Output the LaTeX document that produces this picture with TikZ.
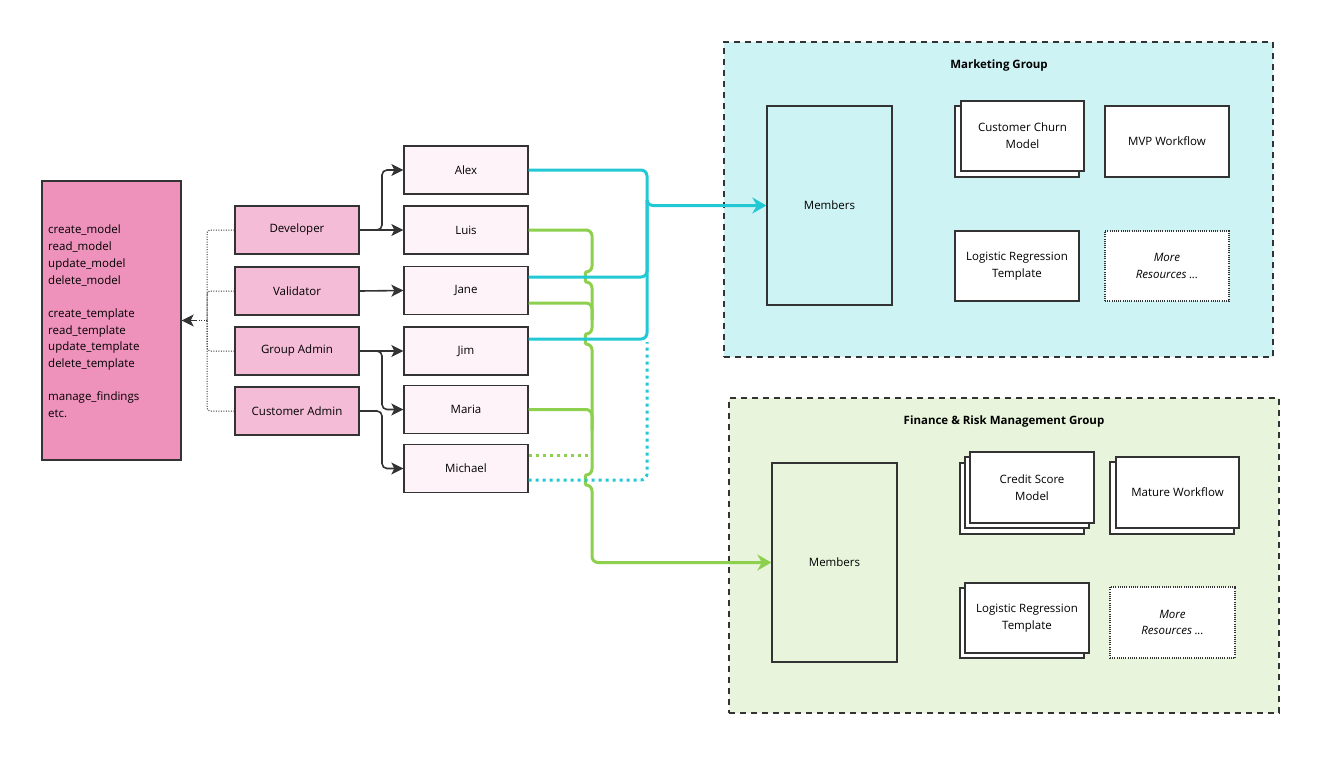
\documentclass[tikz,border=0pt]{standalone}
\usepackage{fontspec}
\setmainfont{Open Sans}
\usetikzlibrary{arrows.meta,calc}
\definecolor{dk}{HTML}{333333}
\definecolor{permpink}{HTML}{EE92BC}
\definecolor{rolepink}{HTML}{F5BCD8}
\definecolor{perspink}{HTML}{FEF3F8}
\definecolor{cy}{HTML}{22C8D4}
\definecolor{gr}{HTML}{8CD04E}
\definecolor{mktfill}{HTML}{CEF3F5}
\definecolor{finfill}{HTML}{E8F5DC}
\tikzset{
  bx/.style={draw=dk, line width=1.3pt, inner sep=0pt, align=center},
  rolebox/.style={bx, fill=rolepink, minimum width=124, minimum height=48},
  persbox/.style={bx, fill=perspink, minimum width=124, minimum height=48},
  resbox/.style={bx, fill=white},
  grpbox/.style={draw=dk, line width=1.3pt, dash pattern=on 6pt off 5pt, inner sep=0pt},
  darktip/.style={-{Stealth[length=12pt,width=12pt,inset=3pt]}},
  darkarr/.style={draw=dk, line width=1.6pt, rounded corners=5pt, darktip},
  dotdark/.style={draw=dk, line width=1pt, dash pattern=on 1pt off 1.5pt, rounded corners=3pt},
  cyline/.style={draw=cy, line width=3pt, rounded corners=6pt},
  grline/.style={draw=gr, line width=3pt, rounded corners=6pt},
  bigtip/.style={-{Stealth[length=14pt,width=16pt,inset=4.5pt]}},
  dotcolor/.style={dash pattern=on 3pt off 4pt}
}
\begin{document}
\begin{tikzpicture}[x=1pt,y=-1pt,font=\fontsize{11.5}{16.7}\selectfont]
\useasboundingbox (0,0) rectangle (1321,756);
\fill[white] (0,0) rectangle (1321,756);

% groups
\node[grpbox, fill=mktfill, minimum width=549, minimum height=315] (mkt) at (998.5,199.5) {};
\node[font=\fontsize{11.5}{16.7}\selectfont\bfseries] (mkttitle) at (999,66) {Marketing Group};
\node[grpbox, fill=finfill, minimum width=550, minimum height=315] (fin) at (1004,555.5) {};
\node[font=\fontsize{11.5}{16.7}\selectfont\bfseries] (fintitle) at (1004,422) {Finance \& Risk Management Group};

% marketing contents
\node[bx, fill=mktfill, minimum width=125, minimum height=199] (mmem) at (829.5,205.5) {Members};
\node[resbox, minimum width=124, minimum height=71] (churnb) at (1017,141.5) {};
\node[resbox, minimum width=123, minimum height=70] (churn) at (1022.5,136) {Customer Churn\\Model};
\node[resbox, minimum width=124, minimum height=71] (mvp) at (1167,141.5) {MVP Workflow};
\node[resbox, minimum width=124, minimum height=70] (lrm) at (1017,266) {Logistic Regression\\Template};
\node[bx, fill=white, dash pattern=on 1pt off 1.2pt, line width=1.1pt, minimum width=124, minimum height=70] (morem) at (1167,266) {\itshape More\\\itshape Resources ...};

% finance contents
\node[bx, fill=finfill, minimum width=125, minimum height=199] (fmem) at (834.5,562.5) {Members};
\node[resbox, minimum width=124, minimum height=71] (credc) at (1022,498.5) {};
\node[resbox, minimum width=124, minimum height=71] (credb) at (1027,492.5) {};
\node[resbox, minimum width=124, minimum height=71] (cred) at (1032,487.5) {Credit Score\\Model};
\node[resbox, minimum width=124, minimum height=72] (matb) at (1172,498) {};
\node[resbox, minimum width=123, minimum height=71] (mat) at (1177.5,492.5) {Mature Workflow};
\node[resbox, minimum width=124, minimum height=70] (lrfb) at (1022,623) {};
\node[resbox, minimum width=124, minimum height=70] (lrf) at (1027,618) {Logistic Regression\\Template};
\node[bx, fill=white, dash pattern=on 1pt off 1.2pt, line width=1.1pt, minimum width=125, minimum height=71] (moref) at (1172.5,622.5) {\itshape More\\\itshape Resources ...};

% permissions
\node[bx, fill=permpink, minimum width=139, minimum height=279] (perm) at (111.5,320.5) {};
\node[anchor=west, align=left, inner sep=0pt] (permtext) at (48,321.5) {create\_model\\read\_model\\update\_model\\delete\_model\\[16.7pt]create\_template\\read\_template\\update\_template\\delete\_template\\[16.7pt]manage\_findings\\etc.};

% roles
\node[rolebox] (dev) at (297,230) {Developer};
\node[rolebox] (val) at (297,291) {Validator};
\node[rolebox] (gadm) at (297,351) {Group Admin};
\node[rolebox] (cadm) at (297,411) {Customer Admin};

% persons
\node[persbox] (alex) at (466,170) {Alex};
\node[persbox] (luis) at (466,230) {Luis};
\node[persbox] (jane) at (466,290.5) {Jane};
\node[persbox] (jim) at (466,351) {Jim};
\node[persbox] (maria) at (466,409.5) {Maria};
\node[persbox] (mich) at (466,468.5) {Michael};

% dotted role -> permissions
\coordinate (pj) at (207,320.5);
\coordinate (pt) at (196,320.5);
\draw[dotdark] (dev.west) -- (207,230) -- (pj);
\draw[dotdark] (val.west) -- (207,291) -- (pj);
\draw[dotdark] (gadm.west) -- (207,351) -- (pj);
\draw[dotdark] (cadm.west) -- (207,411) -- (pj);
\draw[dotdark] (pj) -- (pt);
\draw[draw=dk, line width=1.3pt, darktip] (pt) -- (perm.east);

% role -> person
\draw[darkarr] (dev.east) -- (382,230) -- (382,170) -- (alex.west);
\draw[darkarr] (dev.east) -- (luis.west);
\draw[darkarr] (val.east) -- (jane.west);
\draw[darkarr] (gadm.east) -- (jim.west);
\draw[darkarr] (gadm.east) -- (382,351) -- (382,409.5) -- (maria.west);
\draw[darkarr] (cadm.east) -- (382,411) -- (382,468.5) -- (mich.west);

% green lines
\draw[grline] ($(jane.east)+(0,12.5)$) -- (592,303) -- (592,320);
\draw[grline] (maria.east) -- (592,409.5) -- (592,430);
\draw[grline, dotcolor] ($(mich.east)+(0,-13.5)$) -- (589,455);
\draw[grline, bigtip] (luis.east) -- (592,230) -- (592,272)
   .. controls (585,272) and (585,282) .. (592,282) -- (592,334)
   .. controls (585,334) and (585,344) .. (592,344) -- (592,475)
   .. controls (585,475) and (585,485) .. (592,485) -- (592,562.5) -- (fmem.west);

% cyan lines
\draw[cyline] ($(jane.east)+(0,-13.5)$) -- (647,277) -- (647,200);
\draw[cyline] ($(jim.east)+(0,-12)$) -- (647,339) -- (647,200);
\draw[cyline, dotcolor] ($(mich.east)+(0,11.5)$) -- (647,480) -- (647,342);
\draw[cyline, bigtip] (alex.east) -- (647,170) -- (647,205.5) -- (mmem.west);
\end{tikzpicture}
\end{document}
